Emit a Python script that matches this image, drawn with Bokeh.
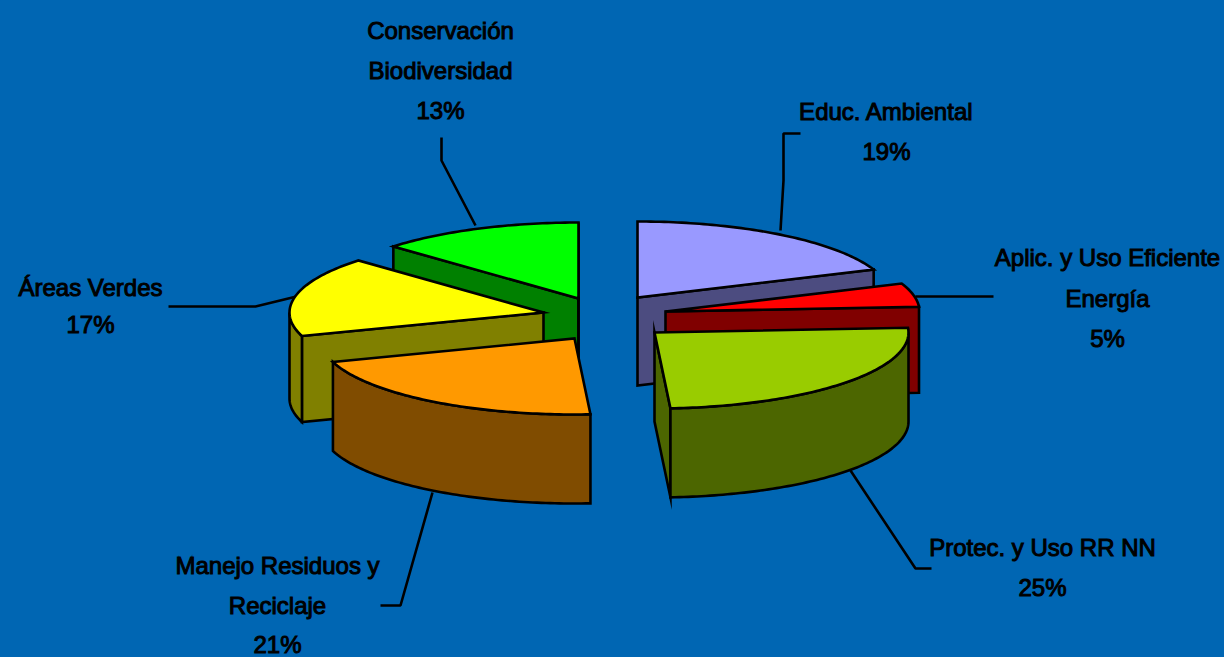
import math
from bokeh.core.properties import value
from bokeh.embed import file_html
from bokeh.models import ColumnDataSource, Range1d
from bokeh.plotting import figure
from bokeh.resources import INLINE

# ---- chart values, clockwise from twelve o'clock ----
categories = ["Educ. Ambiental", "Aplic. y Uso Eficiente Energía", "Protec. y Uso RR NN",
              "Manejo Residuos y Reciclaje", "Áreas Verdes", "Conservación Biodiversidad"]
shares = [19, 5, 25, 21, 17, 13]
label_lines = [["Educ. Ambiental", "19%"],
               ["Aplic. y Uso Eficiente", "Energía", "5%"],
               ["Protec. y Uso RR NN", "25%"],
               ["Manejo Residuos y", "Reciclaje", "21%"],
               ["Áreas Verdes", "17%"],
               ["Conservación", "Biodiversidad", "13%"]]
top_colors = ["#9999FF", "#FF0000", "#99CC00", "#FF9900", "#FFFF00", "#00FF00"]
side_colors = ["#4C4C80", "#800000", "#4C6600", "#804C00", "#808000", "#008000"]

# ---- layout (page pixels) ----
BG = "#0066B3"
RX, RY = 254, 76
apex_x = [637, 665, 654, 574, 543, 578]
apex_y = [297, 311, 332, 338, 312, 298]
depth = [88, 86, 89, 89, 86, 87]
draw_order = [5, 4, 3, 0, 1, 2]
label_x = [886, 1107, 1042, 277, 90, 440]
label_y = [[111, 151], [257, 298, 338], [547, 587], [565, 605, 644], [287, 324], [30, 70, 110]]
leader_x = [[800, 783, 783, 780], [993, 915], [850, 915, 931], [432, 400, 380],
            [168, 255, 296], [441, 441, 475]]
leader_y = [[133, 133, 180, 230], [296, 296], [470, 568, 568], [492, 605, 605],
            [306, 306, 296], [137, 160, 225]]

p = figure(width=1224, height=657, output_backend="svg", toolbar_location=None,
           x_range=Range1d(0, 1224), y_range=Range1d(657, 0), min_border=0,
           background_fill_color=BG, border_fill_color=BG, outline_line_color=None)
p.axis.visible = False
p.grid.visible = False


def rim(cx, cy, deg):
    t = math.radians(deg)
    return cx + RX * math.sin(t), cy - RY * math.cos(t)


def arc(cx, cy, start, end):
    n = max(2, int(abs(end - start)) + 1)
    return [rim(cx, cy, start + (end - start) * k / (n - 1)) for k in range(n)]


edges = []
total = 0
for s in shares:
    edges.append((total * 3.6, (total + s) * 3.6))
    total += s


def patch(points, fill):
    p.patch([q[0] for q in points], [q[1] for q in points], fill_color=fill,
            line_color="black", line_width=2.6, line_join="miter")


for lx, ly in zip(leader_x, leader_y):
    p.line(lx, ly, line_color="black", line_width=2.6)

for i in draw_order:
    start, end = edges[i]
    cx, cy, d = apex_x[i], apex_y[i], depth[i]
    # cut faces that look towards the viewer
    if 180 < start < 360:
        r = rim(cx, cy, start)
        patch([(cx, cy), r, (r[0], r[1] + d), (cx, cy + d)], side_colors[i])
    if 0 < end < 180 or end == 360:
        r = rim(cx, cy, end)
        patch([(cx, cy), r, (r[0], r[1] + d), (cx, cy + d)], side_colors[i])
    # curved outer wall, only its front half
    lo, hi = max(start, 90), min(end, 270)
    if lo < hi:
        wall = arc(cx, cy, lo, hi)
        patch(wall + [(q[0], q[1] + d) for q in reversed(wall)], side_colors[i])
    # top
    patch([(cx, cy)] + arc(cx, cy, start, end), top_colors[i])

xs, ys, texts = [], [], []
for cx, lines, rows in zip(label_x, label_lines, label_y):
    for line, row in zip(lines, rows):
        xs.append(cx)
        ys.append(row)
        texts.append(line)
src = ColumnDataSource(dict(x=xs, y=ys, t=texts))
p.text("x", "y", text="t", source=src, text_font=value("Liberation Sans"), text_font_size="24px",
       text_align="center", text_baseline="middle", text_color="black", text_outline_color="black")

html = file_html(p, INLINE)
html = html.replace("<head>", "<head><style>html,body{background:%s;overflow:hidden}</style>" % BG, 1)
open("out.html", "w").write(html)
